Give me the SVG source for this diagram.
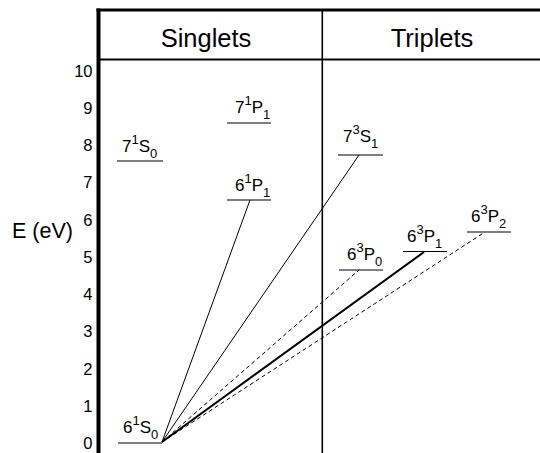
<svg xmlns="http://www.w3.org/2000/svg" width="540" height="453" viewBox="0 0 540 453">
<style>
text{font-family:"Liberation Sans",Arial,sans-serif;fill:#000}
.hdr{font-size:25.5px;text-anchor:middle}
.ax{font-size:16.5px;text-anchor:end}
.lab{font-size:17px}
.s{font-size:13px}
.lvl{stroke:#000;stroke-width:1.1}
.thin{stroke:#000;stroke-width:1;fill:none}
.dash{stroke:#000;stroke-width:1;stroke-dasharray:4,3;fill:none}
.thick{stroke:#000;stroke-width:2;fill:none}
</style>
<rect width="540" height="453" fill="#fff"/>
<g id="frame">
<line x1="98.5" y1="8.5" x2="98.5" y2="453" stroke="#000" stroke-width="4"/>
<line x1="96.5" y1="10" x2="540" y2="10" stroke="#000" stroke-width="3"/>
<line x1="98.5" y1="59.5" x2="540" y2="59.5" stroke="#000" stroke-width="2"/>
<line x1="322.3" y1="10" x2="322.3" y2="453" stroke="#000" stroke-width="1.6"/>
<text class="hdr" x="206" y="47">Singlets</text>
<text class="hdr" x="432" y="47">Triplets</text>
</g>
<g id="axis">
<text x="12" y="238" style="font-size:21.5px">E (eV)</text>
<text class="ax" x="92.5" y="76.5">10</text>
<text class="ax" x="92.5" y="113.8">9</text>
<text class="ax" x="92.5" y="151">8</text>
<text class="ax" x="92.5" y="188.3">7</text>
<text class="ax" x="92.5" y="225.5">6</text>
<text class="ax" x="92.5" y="262.8">5</text>
<text class="ax" x="92.5" y="300">4</text>
<text class="ax" x="92.5" y="337.3">3</text>
<text class="ax" x="92.5" y="374.5">2</text>
<text class="ax" x="92.5" y="411.8">1</text>
<text class="ax" x="92.5" y="449">0</text>
</g>
<g id="connectors">
<line class="thin" x1="162" y1="442" x2="250" y2="200"/>
<line class="thin" x1="162" y1="442" x2="359" y2="155"/>
<line class="dash" x1="162" y1="442" x2="359" y2="270"/>
<line class="thick" x1="162" y1="442" x2="424" y2="252"/>
<line class="dash" x1="162" y1="442" x2="485" y2="232"/>
</g>
<g id="n61S0">
<line class="lvl" x1="118" y1="443" x2="162" y2="443"/>
<text class="lab" x="123" y="433">6<tspan class="s" dy="-8">1</tspan><tspan dy="8">S</tspan><tspan class="s" dy="6">0</tspan></text>
</g>
<g id="n71S0">
<line class="lvl" x1="117" y1="161" x2="163" y2="161"/>
<text class="lab" x="122" y="152">7<tspan class="s" dy="-8">1</tspan><tspan dy="8">S</tspan><tspan class="s" dy="6">0</tspan></text>
</g>
<g id="n71P1">
<line class="lvl" x1="227" y1="123" x2="271" y2="123"/>
<text class="lab" x="235" y="113">7<tspan class="s" dy="-8">1</tspan><tspan dy="8">P</tspan><tspan class="s" dy="6">1</tspan></text>
</g>
<g id="n61P1">
<line class="lvl" x1="227" y1="200" x2="271" y2="200"/>
<text class="lab" x="235" y="191">6<tspan class="s" dy="-8">1</tspan><tspan dy="8">P</tspan><tspan class="s" dy="6">1</tspan></text>
</g>
<g id="n73S1">
<line class="lvl" x1="338" y1="155" x2="383" y2="155"/>
<text class="lab" x="343" y="142">7<tspan class="s" dy="-8">3</tspan><tspan dy="8">S</tspan><tspan class="s" dy="6">1</tspan></text>
</g>
<g id="n63P0">
<line class="lvl" x1="339" y1="270" x2="383" y2="270"/>
<text class="lab" x="347" y="260">6<tspan class="s" dy="-8">3</tspan><tspan dy="8">P</tspan><tspan class="s" dy="6">0</tspan></text>
</g>
<g id="n63P1">
<line class="lvl" x1="403" y1="251.5" x2="447" y2="251.5"/>
<text class="lab" x="407" y="242">6<tspan class="s" dy="-8">3</tspan><tspan dy="8">P</tspan><tspan class="s" dy="6">1</tspan></text>
</g>
<g id="n63P2">
<line class="lvl" x1="467" y1="232" x2="511" y2="232"/>
<text class="lab" x="471" y="222">6<tspan class="s" dy="-8">3</tspan><tspan dy="8">P</tspan><tspan class="s" dy="6">2</tspan></text>
</g>
</svg>
